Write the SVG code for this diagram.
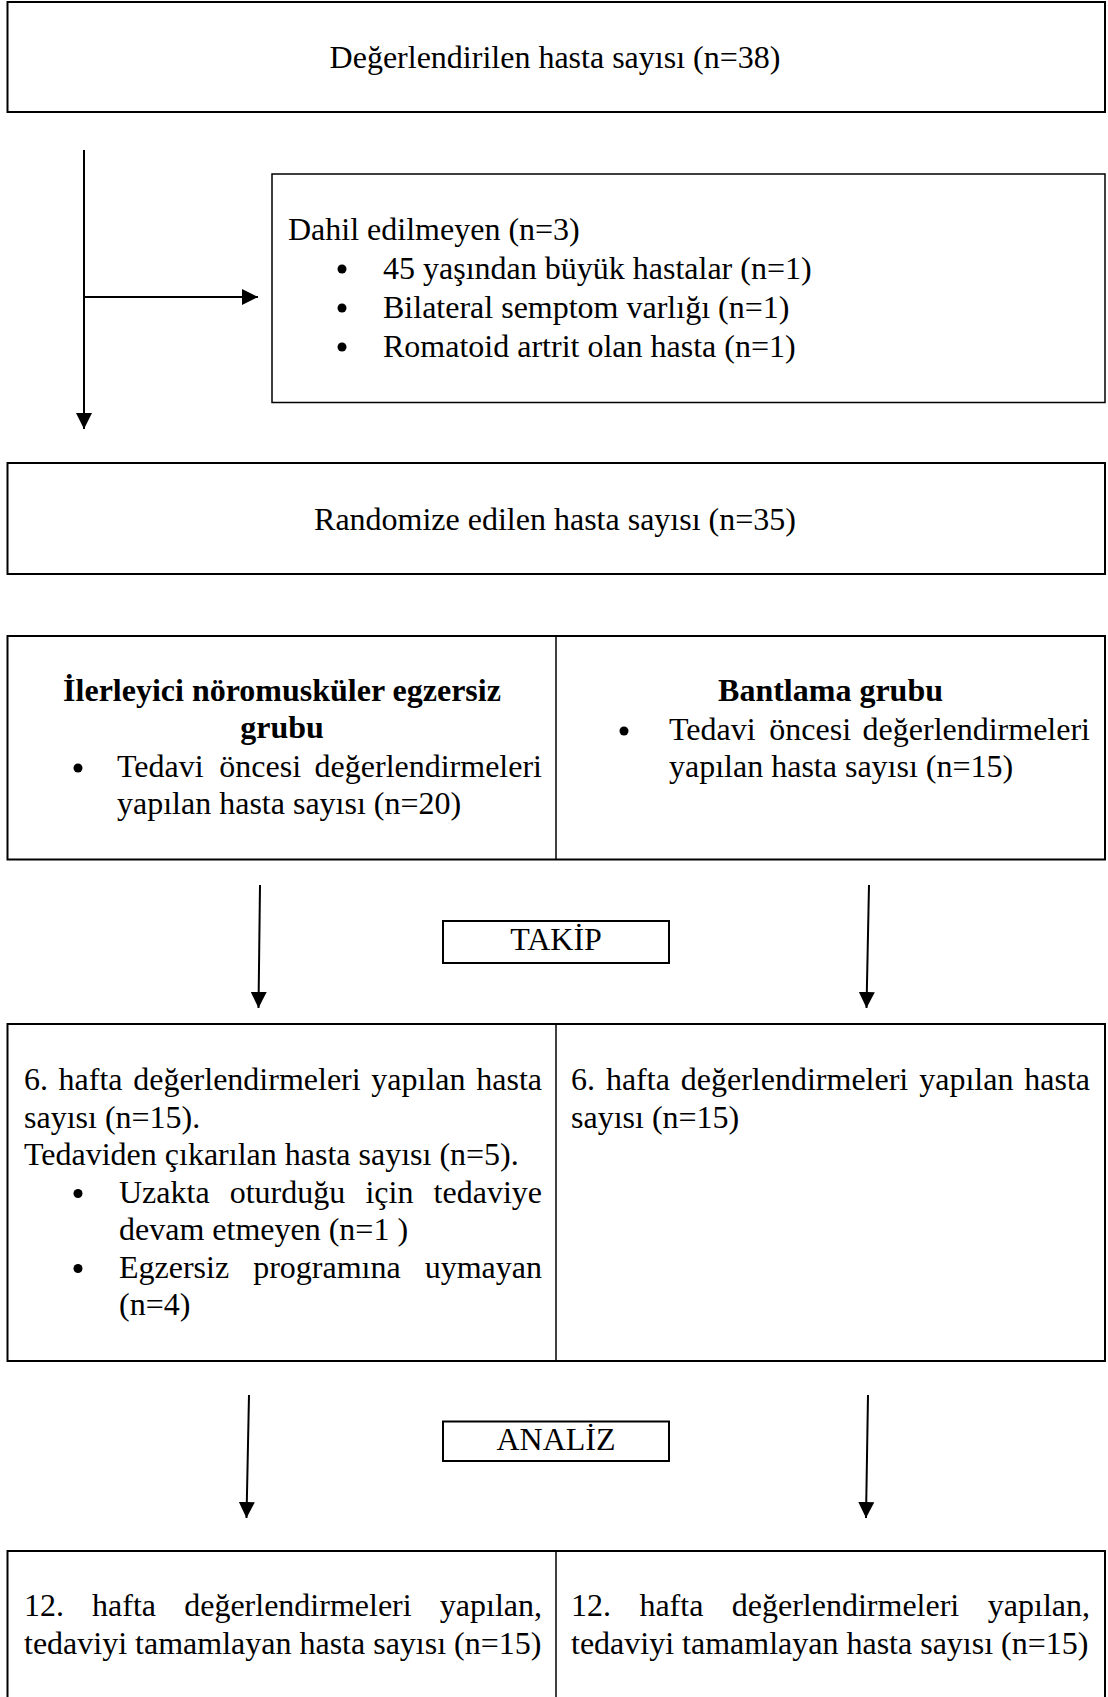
<svg xmlns="http://www.w3.org/2000/svg" width="1108" height="1697" viewBox="0 0 1108 1697">
<style>
.box{fill:none;stroke:#000;stroke-width:2}
.thin{fill:none;stroke:#000;stroke-width:1.5}
.t{font-family:"Liberation Serif","Times New Roman",serif;font-size:32px;fill:#000}
.b{font-weight:bold}
.c{text-anchor:middle}
.e{text-anchor:end}
.conn{stroke:#000;stroke-width:2;fill:none}
.dot{fill:#000}
</style>
<defs>
<marker id="ah" markerUnits="userSpaceOnUse" markerWidth="16" markerHeight="16" refX="16" refY="8" orient="auto" viewBox="0 0 16 16">
<path d="M0,0 L16,8 L0,16 Z" fill="#000"/>
</marker>
</defs>
<rect width="1108" height="1697" fill="#fff"/>

<g id="connectors">
<line class="conn" x1="84" y1="150" x2="84" y2="429" marker-end="url(#ah)"/>
<line class="conn" x1="84" y1="297" x2="258" y2="297" marker-end="url(#ah)"/>
<line class="conn" x1="260" y1="885" x2="258.5" y2="1008" marker-end="url(#ah)"/>
<line class="conn" x1="869" y1="885" x2="866.5" y2="1008" marker-end="url(#ah)"/>
<line class="conn" x1="249" y1="1395" x2="246.5" y2="1518" marker-end="url(#ah)"/>
<line class="conn" x1="868" y1="1395" x2="866" y2="1518" marker-end="url(#ah)"/>
</g>

<g id="n-degerlendirilen">
<rect class="box" x="7.5" y="2" width="1097.5" height="110"/>
<text class="t c" x="555" y="68">Değerlendirilen hasta sayısı (n=38)</text>
</g>

<g id="n-dahil">
<rect class="thin" x="272" y="174" width="833" height="228.5"/>
<text class="t" x="288" y="240">Dahil edilmeyen (n=3)</text>
<circle class="dot" cx="342" cy="269" r="4.5"/>
<text class="t" x="383" y="278.5">45 yaşından büyük hastalar (n=1)</text>
<circle class="dot" cx="342" cy="308" r="4.5"/>
<text class="t" x="383" y="317.5">Bilateral semptom varlığı (n=1)</text>
<circle class="dot" cx="342" cy="347" r="4.5"/>
<text class="t" x="383" y="356.5">Romatoid artrit olan hasta (n=1)</text>
</g>

<g id="n-randomize">
<rect class="box" x="7.5" y="463" width="1097.5" height="111"/>
<text class="t c" x="555" y="530">Randomize edilen hasta sayısı (n=35)</text>
</g>

<g id="n-gruplar">
<rect class="box" x="7.5" y="636" width="1097.5" height="223.5"/>
<line class="thin" x1="556" y1="636" x2="556" y2="859.5"/>
<text class="t b c" x="282" y="701">İlerleyici nöromusküler egzersiz</text>
<text class="t b c" x="282" y="738">grubu</text>
<circle class="dot" cx="78" cy="768" r="4.5"/>
<text class="t" y="777"><tspan x="117">Tedavi</tspan><tspan x="219.3">öncesi</tspan></text>
<text class="t e" x="542" y="777">değerlendirmeleri</text>
<text class="t" x="117" y="814">yapılan hasta sayısı (n=20)</text>
<text class="t b c" x="830.5" y="701">Bantlama grubu</text>
<circle class="dot" cx="624" cy="731" r="4.5"/>
<text class="t" y="740"><tspan x="669">Tedavi</tspan><tspan x="769.3">öncesi</tspan></text>
<text class="t e" x="1090" y="740">değerlendirmeleri</text>
<text class="t" x="669" y="777">yapılan hasta sayısı (n=15)</text>
</g>

<g id="n-takip">
<rect class="box" x="443" y="921" width="226" height="42"/>
<text class="t c" x="556" y="950">TAKİP</text>
</g>

<g id="n-hafta6">
<rect class="box" x="7.5" y="1024" width="1097.5" height="337"/>
<line class="thin" x1="556" y1="1024" x2="556" y2="1361"/>
<text class="t" y="1090"><tspan x="24">6.</tspan><tspan x="58.6">hafta</tspan><tspan x="133.2">değerlendirmeleri</tspan><tspan x="371.3">yapılan</tspan></text>
<text class="t e" x="542" y="1090">hasta</text>
<text class="t" x="24" y="1127.5">sayısı (n=15).</text>
<text class="t" x="24" y="1165">Tedaviden çıkarılan hasta sayısı (n=5).</text>
<circle class="dot" cx="78" cy="1193.5" r="4.5"/>
<text class="t" y="1202.5"><tspan x="119">Uzakta</tspan><tspan x="229.7">oturduğu</tspan><tspan x="365.4">için</tspan></text>
<text class="t e" x="542" y="1202.5">tedaviye</text>
<text class="t" x="119" y="1240">devam etmeyen (n=1 )</text>
<circle class="dot" cx="78" cy="1268.5" r="4.5"/>
<text class="t" y="1277.5"><tspan x="119">Egzersiz</tspan><tspan x="253.2">programına</tspan></text>
<text class="t e" x="542" y="1277.5">uymayan</text>
<text class="t" x="119" y="1315">(n=4)</text>
<text class="t" y="1090"><tspan x="571">6.</tspan><tspan x="605.9">hafta</tspan><tspan x="680.8">değerlendirmeleri</tspan><tspan x="919.2">yapılan</tspan></text>
<text class="t e" x="1090" y="1090">hasta</text>
<text class="t" x="571" y="1127.5">sayısı (n=15)</text>
</g>

<g id="n-analiz">
<rect class="box" x="443" y="1421.5" width="226" height="39.5"/>
<text class="t c" x="556" y="1450">ANALİZ</text>
</g>

<g id="n-hafta12">
<rect class="box" x="7.5" y="1551" width="1097.5" height="160"/>
<line class="thin" x1="556" y1="1551" x2="556" y2="1700"/>
<text class="t" y="1616"><tspan x="24">12.</tspan><tspan x="92.1">hafta</tspan><tspan x="184.2">değerlendirmeleri</tspan></text>
<text class="t e" x="542" y="1616">yapılan,</text>
<text class="t" x="24" y="1653.5">tedaviyi tamamlayan hasta sayısı (n=15)</text>
<text class="t" y="1616"><tspan x="571">12.</tspan><tspan x="639.4">hafta</tspan><tspan x="731.8">değerlendirmeleri</tspan></text>
<text class="t e" x="1090" y="1616">yapılan,</text>
<text class="t" x="571" y="1653.5">tedaviyi tamamlayan hasta sayısı (n=15)</text>
</g>
</svg>
